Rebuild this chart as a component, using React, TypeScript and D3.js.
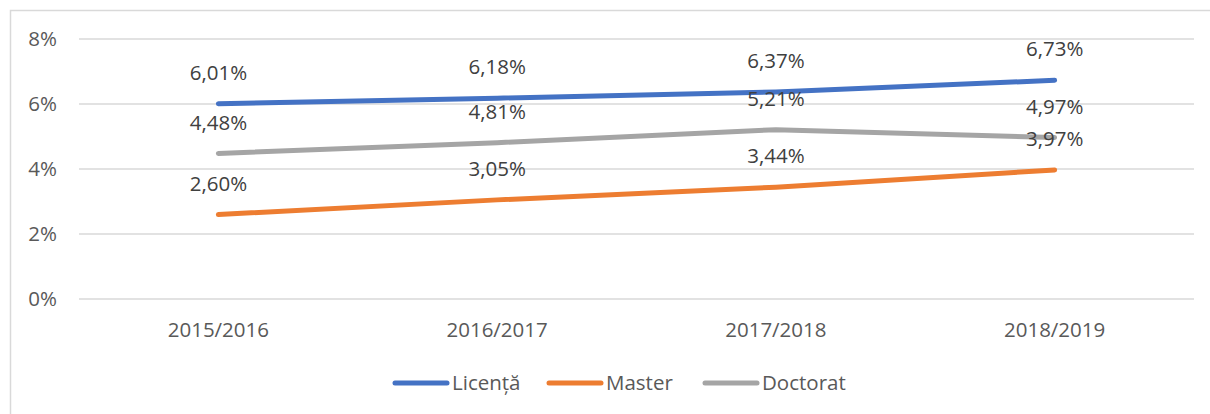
import React, { useEffect, useRef } from "react";
import * as d3 from "d3";

const categories = ["2015/2016", "2016/2017", "2017/2018", "2018/2019"];
const licenta = [6.01, 6.18, 6.37, 6.73];
const master = [2.6, 3.05, 3.44, 3.97];
const doctorat = [4.48, 4.81, 5.21, 4.97];
const yTicks = [0, 2, 4, 6, 8];

const series = [
    { name: "Licență", values: licenta, color: "#4472C4" },
    { name: "Master", values: master, color: "#ED7D31" },
    { name: "Doctorat", values: doctorat, color: "#A5A5A5" },
];

const FONT = "'Open Sans', 'Noto Sans', sans-serif";

export default function App() {
    const svgRef = useRef<SVGSVGElement | null>(null);

    useEffect(() => {
        const width = 1210;
        const height = 414;
        const margin = { top: 39, right: 16, bottom: 115, left: 79 };
        const innerWidth = 1194 - margin.left;
        const innerHeight = 299 - margin.top;

        const svg = d3.select(svgRef.current);
        svg.selectAll("*").remove();
        svg.attr("width", width).attr("height", height);

        svg.append("rect")
            .attr("width", width)
            .attr("height", height)
            .attr("fill", "#fff");

        // рамка
        svg.append("rect")
            .attr("x", 10.5)
            .attr("y", 10.5)
            .attr("width", 1220)
            .attr("height", 420)
            .attr("fill", "none")
            .attr("stroke", "#D9D9D9")
            .attr("stroke-width", 1.5);

        const g = svg
            .append("g")
            .attr("transform", `translate(${margin.left},${margin.top})`);

        const x = d3
            .scaleBand()
            .domain(categories)
            .range([0, innerWidth]);

        const y = d3.scaleLinear().domain([0, 8]).range([innerHeight, 0]);

        // сетка
        g.selectAll(".grid")
            .data(yTicks)
            .enter()
            .append("line")
            .attr("x1", 0)
            .attr("x2", innerWidth)
            .attr("y1", (d) => y(d))
            .attr("y2", (d) => y(d))
            .attr("stroke", "#D9D9D9")
            .attr("stroke-width", 1.5);

        g.selectAll(".ytick")
            .data(yTicks)
            .enter()
            .append("text")
            .attr("x", -22)
            .attr("y", (d) => y(d))
            .attr("dy", "0.35em")
            .attr("text-anchor", "end")
            .style("font-family", FONT)
            .style("font-size", "20.5px")
            .attr("fill", "#595959")
            .text((d) => `${d}%`);

        g.selectAll(".xtick")
            .data(categories)
            .enter()
            .append("text")
            .attr("x", (d) => (x(d) ?? 0) + x.bandwidth() / 2)
            .attr("y", innerHeight + 38)
            .attr("text-anchor", "middle")
            .style("font-family", FONT)
            .style("font-size", "20.5px")
            .attr("fill", "#595959")
            .text((d) => d);

        const line = d3
            .line<number>()
            .x((_, i) => (x(categories[i]) ?? 0) + x.bandwidth() / 2)
            .y((d) => y(d));

        series.forEach((s) => {
            g.append("path")
                .datum(s.values)
                .attr("d", line)
                .attr("fill", "none")
                .attr("stroke", s.color)
                .attr("stroke-width", 5)
                .attr("stroke-linecap", "round")
                .attr("stroke-linejoin", "round");
        });

        series.forEach((s) => {
            g.selectAll(null)
                .data(s.values)
                .enter()
                .append("text")
                .attr("x", (_, i) => (x(categories[i]) ?? 0) + x.bandwidth() / 2)
                .attr("y", (d) => y(d) - 31)
                .attr("dy", "0.35em")
                .attr("text-anchor", "middle")
                .style("font-family", FONT)
                .style("font-size", "20.5px")
                .attr("fill", "#404040")
                .text((d) => d.toFixed(2).replace(".", ",") + "%");
        });

        // легенда
        const legendX = [393, 547, 703];
        series.forEach((s, i) => {
            const lg = svg.append("g").attr("transform", `translate(${legendX[i]},383)`);
            lg.append("line")
                .attr("x1", 2)
                .attr("x2", 54)
                .attr("stroke", s.color)
                .attr("stroke-width", 5)
                .attr("stroke-linecap", "round");
            lg.append("text")
                .attr("x", 59)
                .attr("dy", "0.35em")
                .style("font-family", FONT)
                .style("font-size", "20.5px")
                .attr("fill", "#595959")
                .text(s.name);
        });
    }, []);

    return (
        <div style={{ position: "fixed", left: 0, top: 0 }}>
            <svg ref={svgRef} style={{ display: "block" }} />
        </div>
    );
}
